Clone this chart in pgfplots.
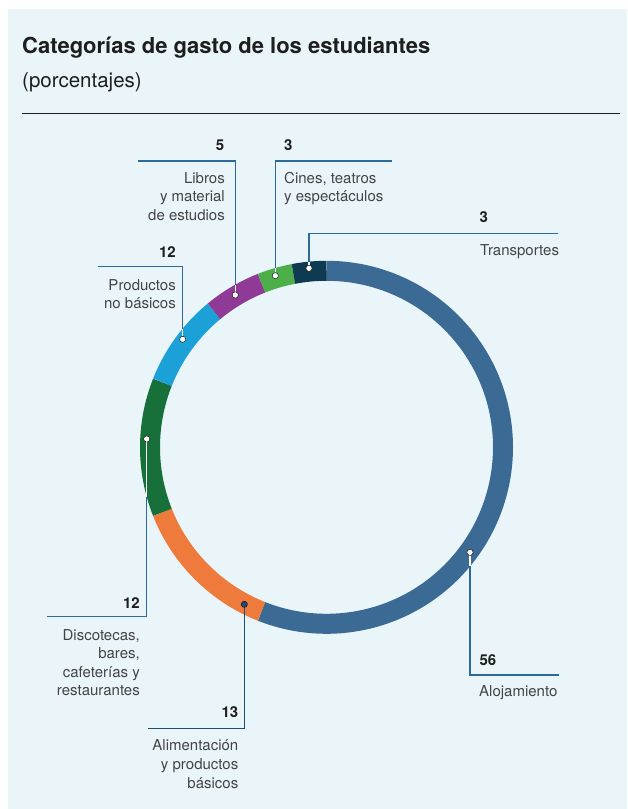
\documentclass[border=0pt]{standalone}
\usepackage{fontspec}
\setmainfont{TeX Gyre Heros}
\usepackage{pgfplots}
\usepackage{pgfplotstable}
\pgfplotsset{compat=1.18}

\definecolor{panel}{HTML}{EAF5FA}
\definecolor{seg0}{HTML}{3B6A95}
\definecolor{seg1}{HTML}{EE7A3B}
\definecolor{seg2}{HTML}{176F3A}
\definecolor{seg3}{HTML}{1BA1D8}
\definecolor{seg4}{HTML}{8E3A96}
\definecolor{seg5}{HTML}{4DAF4A}
\definecolor{seg6}{HTML}{0E3A52}
\definecolor{leader}{HTML}{2C6A9C}
\definecolor{navydot}{HTML}{1A4E78}
\definecolor{labgray}{HTML}{444444}
\definecolor{numcol}{HTML}{1E1E1E}

% value = printed percentage, share = drawn share of the ring
\pgfplotstableread{
cat value share dotx doty dc
Alojamiento 56 56 470.0 552.3 w
Alimentacion 13 13 244.3 604.3 n
Discotecas 12 12 146.7 439.0 w
Productos 12 8 182.7 339.3 w
Libros 5 5 235.3 295.0 w
Cines 3 3 275.3 275.7 w
Transportes 3 3 309.0 268.3 w
}\segs

\tikzset{
  lab/.style={font=\fontsize{15}{18}\selectfont, text=labgray, inner sep=0pt},
  num/.style={font=\fontsize{15}{18}\selectfont\bfseries, text=numcol, inner sep=0pt},
  ld/.style={leader, line width=1.2pt},
  wl/.style={white, line width=1.2pt}
}

\begin{document}
\begin{tikzpicture}
\begin{axis}[width=627pt,height=809pt,scale only axis,
  xmin=0,xmax=627,ymin=0,ymax=809,y dir=reverse,hide axis,clip=false]
\path (axis cs:0,0) rectangle (axis cs:627,809);
\fill[panel] (axis cs:8,9) rectangle (axis cs:627,809);

% title
\node[anchor=base west, inner sep=0pt, text=numcol, font=\fontsize{22}{26}\selectfont\bfseries] at (axis cs:22,53.3) {Categorías de gasto de los estudiantes};
\node[anchor=base west, inner sep=0pt, text=numcol, font=\fontsize{20.5}{24}\selectfont] at (axis cs:22,87.3) {(porcentajes)};
\draw[numcol, line width=1.2pt] (axis cs:22,113.3) -- (axis cs:620,113.3);

% ring
\gdef\cum{0}
\pgfplotsinvokeforeach{0,...,6}{%
  \pgfplotstablegetelem{#1}{share}\of\segs
  \pgfmathsetmacro\as{90-3.6*\cum}%
  \pgfmathsetmacro\ae{90-3.6*(\cum+\pgfplotsretval)}%
  \pgfmathsetmacro\xs{326.5+176.5*cos(\as)}%
  \pgfmathsetmacro\ys{447.3-176.5*sin(\as)}%
  \pgfmathsetmacro\newcum{\cum+\pgfplotsretval}%
  \xdef\cum{\newcum}%
  \edef\doarc{\noexpand\draw[line width=20pt, color=seg#1] (axis cs:\xs,\ys) arc[start angle=\as, end angle=\ae, radius=176.5pt];}%
  \doarc
}

% leader lines
\addplot[ld] coordinates {(309,268.3) (309,233.5) (558,233.5)};
\addplot[ld] coordinates {(275.3,275.7) (275.3,161) (391.7,161)};
\addplot[ld] coordinates {(235.3,295) (235.3,161) (138,161)};
\addplot[ld] coordinates {(182.7,339.3) (182.7,266.7) (97.7,266.7)};
\addplot[ld] coordinates {(146.7,439) (146.7,616.7) (47.3,616.7)};
\addplot[navydot, line width=1.2pt] coordinates {(244.3,604.3) (244.3,728.3) (148.3,728.3)};
\addplot[ld] coordinates {(470,552.3) (470,675) (558.7,675)};
% white parts inside the ring
\addplot[wl] coordinates {(309,268.3) (309,261.6)};
\addplot[wl] coordinates {(275.3,275.7) (275.3,268)};
\addplot[wl] coordinates {(235.3,295) (235.3,284.6)};
\addplot[wl] coordinates {(182.7,339.3) (182.7,328.5)};
\addplot[wl] coordinates {(146.7,439) (146.7,496.8)};
\addplot[wl] coordinates {(470,552.3) (470,566.4)};

% dots
\addplot[scatter, only marks, mark=*, mark size=3.1pt,
  scatter src=explicit symbolic,
  scatter/classes={w={draw=none,fill=white}, n={draw=none,fill=navydot}}]
  table[x=dotx, y=doty, meta=dc]{\segs};

% labels
\node[num, anchor=base west] at (axis cs:479.5,222.7) {3};
\node[lab, anchor=base west] at (axis cs:480,255) {Transportes};

\node[num, anchor=base west] at (axis cs:284,150.7) {3};
\node[lab, anchor=base west] at (axis cs:284,183) {Cines, teatros};
\node[lab, anchor=base west] at (axis cs:284,201.7) {y espectáculos};

\node[num, anchor=base east] at (axis cs:224.5,150.7) {5};
\node[lab, anchor=base east] at (axis cs:225,183) {Libros};
\node[lab, anchor=base east] at (axis cs:225,201.7) {y material};
\node[lab, anchor=base east] at (axis cs:225,220) {de estudios};

\node[num, anchor=base east] at (axis cs:176,257.7) {12};
\node[lab, anchor=base east] at (axis cs:176,290) {Productos};
\node[lab, anchor=base east] at (axis cs:176,308.3) {no básicos};

\node[num, anchor=base east] at (axis cs:140,608.3) {12};
\node[lab, anchor=base east] at (axis cs:140,640) {Discotecas,};
\node[lab, anchor=base east] at (axis cs:140,658.5) {bares,};
\node[lab, anchor=base east] at (axis cs:140,677) {cafeterías y};
\node[lab, anchor=base east] at (axis cs:140,695.5) {restaurantes};

\node[num, anchor=base east] at (axis cs:238.5,717.3) {13};
\node[lab, anchor=base east] at (axis cs:238.5,750.7) {Alimentación};
\node[lab, anchor=base east] at (axis cs:238.5,769.5) {y productos};
\node[lab, anchor=base east] at (axis cs:238.5,788.3) {básicos};

\node[num, anchor=base west] at (axis cs:479.3,665.7) {56};
\node[lab, anchor=base west] at (axis cs:479,696.7) {Alojamiento};
\end{axis}
\end{tikzpicture}
\end{document}
